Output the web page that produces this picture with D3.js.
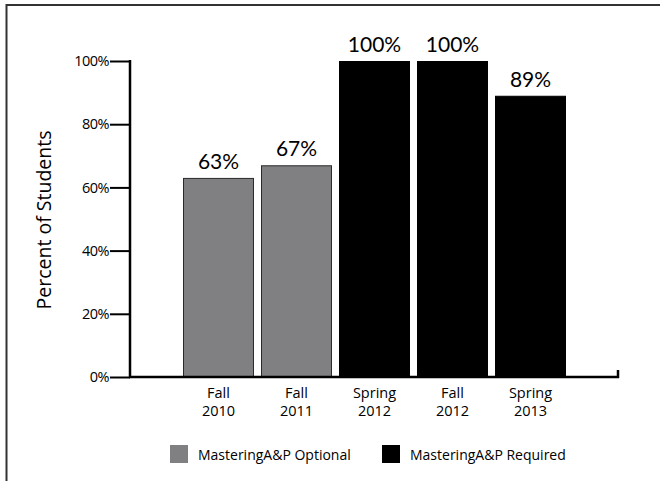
<!DOCTYPE html>
<html>
<head>
<meta charset="utf-8">
<script src="https://cdn.jsdelivr.net/npm/d3@7"></script>
<style>
  html, body { margin: 0; padding: 0; background: #fff; }
  svg { display: block; }
</style>
</head>
<body>
<svg id="chart" width="660" height="481"></svg>
<script>
const categories = ["Fall\n2010", "Fall\n2011", "Spring\n2012", "Fall\n2012", "Spring\n2013"];
const values = [63, 67, 100, 100, 89];
const groups = ["Optional", "Optional", "Required", "Required", "Required"];
const yTicks = [0, 20, 40, 60, 80, 100];
const legendLabels = ["MasteringA&P Optional", "MasteringA&P Required"];
const legendKeys = ["Optional", "Required"];

const colors = { Optional: "#808083", Required: "#000000" };
const strokes = { Optional: "#2a2a2a", Required: "#000000" };

const svg = d3.select("#chart");
const sans = "'Open Sans', 'Noto Sans', sans-serif";
const geo = "Lato, 'Noto Sans', sans-serif";

// outer frame
svg.append("rect").attr("x", 6.5).attr("y", 5).attr("width", 700).attr("height", 600)
  .attr("fill", "none").attr("stroke", "#333").attr("stroke-width", 2);

const x = d3.scaleBand().domain(categories).range([183, 566]).paddingInner(0.09).paddingOuter(0);
const y = d3.scaleLinear().domain([0, 100]).range([377, 61]);

// bars
svg.selectAll("rect.bar").data(values).enter().append("rect")
  .attr("class", "bar")
  .attr("x", (d, i) => x(categories[i]) + 0.5)
  .attr("y", d => y(d) + 0.5)
  .attr("width", x.bandwidth() - 1)
  .attr("height", d => y(0) - y(d) - 0.5)
  .attr("fill", (d, i) => colors[groups[i]])
  .attr("stroke", (d, i) => strokes[groups[i]])
  .attr("stroke-width", 1);

// value labels
svg.selectAll("text.val").data(values).enter().append("text")
  .attr("class", "val")
  .attr("x", (d, i) => x(categories[i]) + x.bandwidth() / 2)
  .attr("y", d => y(d) - 9)
  .attr("text-anchor", "middle")
  .attr("font-family", geo)
  .attr("font-size", 21)
  .attr("fill", "#000")
  .text(d => d + "%");

// y axis
const yAxis = d3.axisLeft(y).tickValues(yTicks).tickFormat(d => d + "%").tickSize(20).tickPadding(1);
const gy = svg.append("g").attr("transform", "translate(130,0)").call(yAxis);
gy.select(".domain").remove();
gy.selectAll(".tick line").attr("stroke", "#000").attr("stroke-width", 2);
gy.selectAll(".tick text").attr("font-family", sans).attr("font-size", 14.5).attr("fill", "#000")
  .attr("letter-spacing", -0.5);
svg.append("line").attr("x1", 130).attr("x2", 130).attr("y1", 60).attr("y2", 378)
  .attr("stroke", "#000").attr("stroke-width", 2.5);

// x axis
const xAxis = d3.axisBottom(x).tickSize(0).tickFormat("");
const gx = svg.append("g").attr("transform", "translate(0,377)").call(xAxis);
gx.select(".domain").remove();
svg.append("line").attr("x1", 129).attr("x2", 619).attr("y1", 377).attr("y2", 377)
  .attr("stroke", "#000").attr("stroke-width", 2.5);
svg.append("line").attr("x1", 618).attr("x2", 618).attr("y1", 370).attr("y2", 378)
  .attr("stroke", "#000").attr("stroke-width", 2.5);

// x labels (two lines)
gx.selectAll(".tick").each(function(d) {
  const t = d3.select(this).append("text")
    .attr("text-anchor", "middle")
    .attr("font-family", sans)
    .attr("font-size", 14.5)
    .attr("fill", "#000");
  d.split("\n").forEach((line, k) => {
    t.append("tspan").attr("x", 0).attr("y", 21 + k * 18).text(line);
  });
});

// y axis title
svg.append("text")
  .attr("transform", "translate(51,220) rotate(-90)")
  .attr("text-anchor", "middle")
  .attr("font-family", sans)
  .attr("font-size", 19.5)
  .attr("fill", "#000")
  .text("Percent of Students");

// legend
const legendX = [170, 382];
legendKeys.forEach((k, i) => {
  svg.append("rect").attr("x", legendX[i]).attr("y", 445).attr("width", 18).attr("height", 18)
    .attr("fill", colors[k]);
  svg.append("text").attr("x", legendX[i] + 28).attr("y", 460)
    .attr("font-family", sans).attr("font-size", 14).attr("fill", "#000")
    .text(legendLabels[i]);
});
</script>
</body>
</html>
